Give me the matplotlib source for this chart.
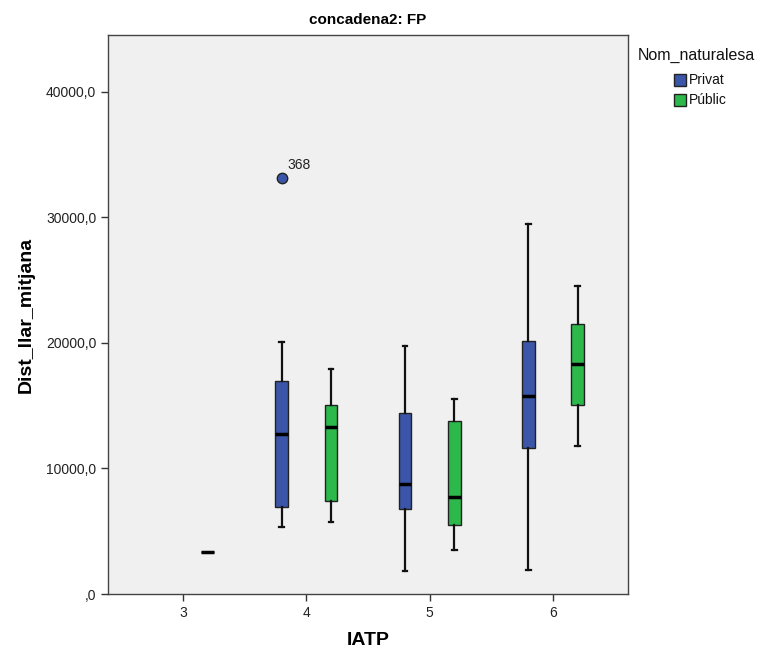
import matplotlib
matplotlib.use("Agg")
import matplotlib.pyplot as plt
from matplotlib.patches import Rectangle
from matplotlib.ticker import FuncFormatter

plt.rcParams["font.family"] = ["Liberation Sans", "DejaVu Sans"]

categories = [3, 4, 5, 6]
groups = ["Privat", "Públic"]
colors = ["#3B56A8", "#2DB84B"]

# five-number summaries: (whislo, q1, med, q3, whishi)
privat = {
    4: (5300, 6900, 12750, 16970, 20040),
    5: (1860, 6750, 8760, 14450, 19730),
    6: (1910, 11610, 15800, 20160, 29480),
}
public = {
    3: (3330, 3330, 3330, 3330, 3330),
    4: (5740, 7410, 13330, 15060, 17950),
    5: (3500, 5470, 7700, 13780, 15540),
    6: (11790, 15080, 18350, 21490, 24520),
}
outliers = {("Privat", 4): [(33170, "368")]}

fig = plt.figure(figsize=(7.68, 6.55), dpi=100)
ax = fig.add_axes([108 / 768, 1 - 594 / 655, 520 / 768, 559 / 655])
ax.set_facecolor("#F0F0F0")

offsets = {"Privat": -0.2, "Públic": 0.2}
for g, data, col in zip(groups, [privat, public], colors):
    for c, (lo, q1, med, q3, hi) in data.items():
        fl = [v for v, _ in outliers.get((g, c), [])]
        st = [dict(whislo=lo, q1=q1, med=med, q3=q3, whishi=hi, fliers=fl)]
        single = lo == hi
        ax.bxp(st, positions=[c + offsets[g]], widths=0.105, patch_artist=True,
               showfliers=True,
               boxprops=dict(facecolor=col, edgecolor="#222222", lw=1.0),
               medianprops=dict(color="black", lw=2.5),
               whiskerprops=dict(color="#111111", lw=1.6),
               capprops=dict(color="#111111", lw=1.6),
               capwidths=0.0 if single else 0.04,
               flierprops=dict(marker="o", markerfacecolor=col,
                               markeredgecolor="#222222", markersize=7.5))
        for v, lab in outliers.get((g, c), []):
            ax.annotate(lab, (c + offsets[g], v), xytext=(4, 6),
                        textcoords="offset points", fontsize=10, color="#222222")

ax.set_xlim(2.393, 6.607)
ax.set_ylim(0, 44540)
ax.set_xticks(categories)
ax.set_xticklabels([str(c) for c in categories])
ax.set_yticks([0, 10000, 20000, 30000, 40000])
ax.yaxis.set_major_formatter(FuncFormatter(
    lambda v, p: ",0" if v == 0 else f"{int(v)},0"))
ax.tick_params(axis="both", labelsize=10, colors="#333333", length=5,
               width=1, labelcolor="#222222")
for s in ax.spines.values():
    s.set_color("#444444")
    s.set_linewidth(1.0)

ax.set_title("concadena2: FP", fontsize=11, fontweight="bold", pad=8)
ax.set_xlabel("IATP", fontsize=14, fontweight="bold", labelpad=9)
ax.set_ylabel("Dist_llar_mitjana", fontsize=14, fontweight="bold", labelpad=8)

# legend drawn by hand, SPSS style
W, H = 768, 655
fig.text(638 / W, 1 - 55 / H, "Nom_naturalesa", fontsize=11.5,
         va="center", ha="left", color="#111111")
for i, (g, col) in enumerate(zip(groups, colors)):
    yc = 80 + i * 20
    fig.add_artist(Rectangle((674 / W, 1 - (yc + 6) / H), 12 / W, 12 / H,
                             transform=fig.transFigure, facecolor=col,
                             edgecolor="#222222", lw=1.0))
    fig.text(689 / W, 1 - yc / H, g, fontsize=10, va="center", ha="left",
             color="#111111")

fig.savefig("out.png", dpi=100, facecolor="white")
